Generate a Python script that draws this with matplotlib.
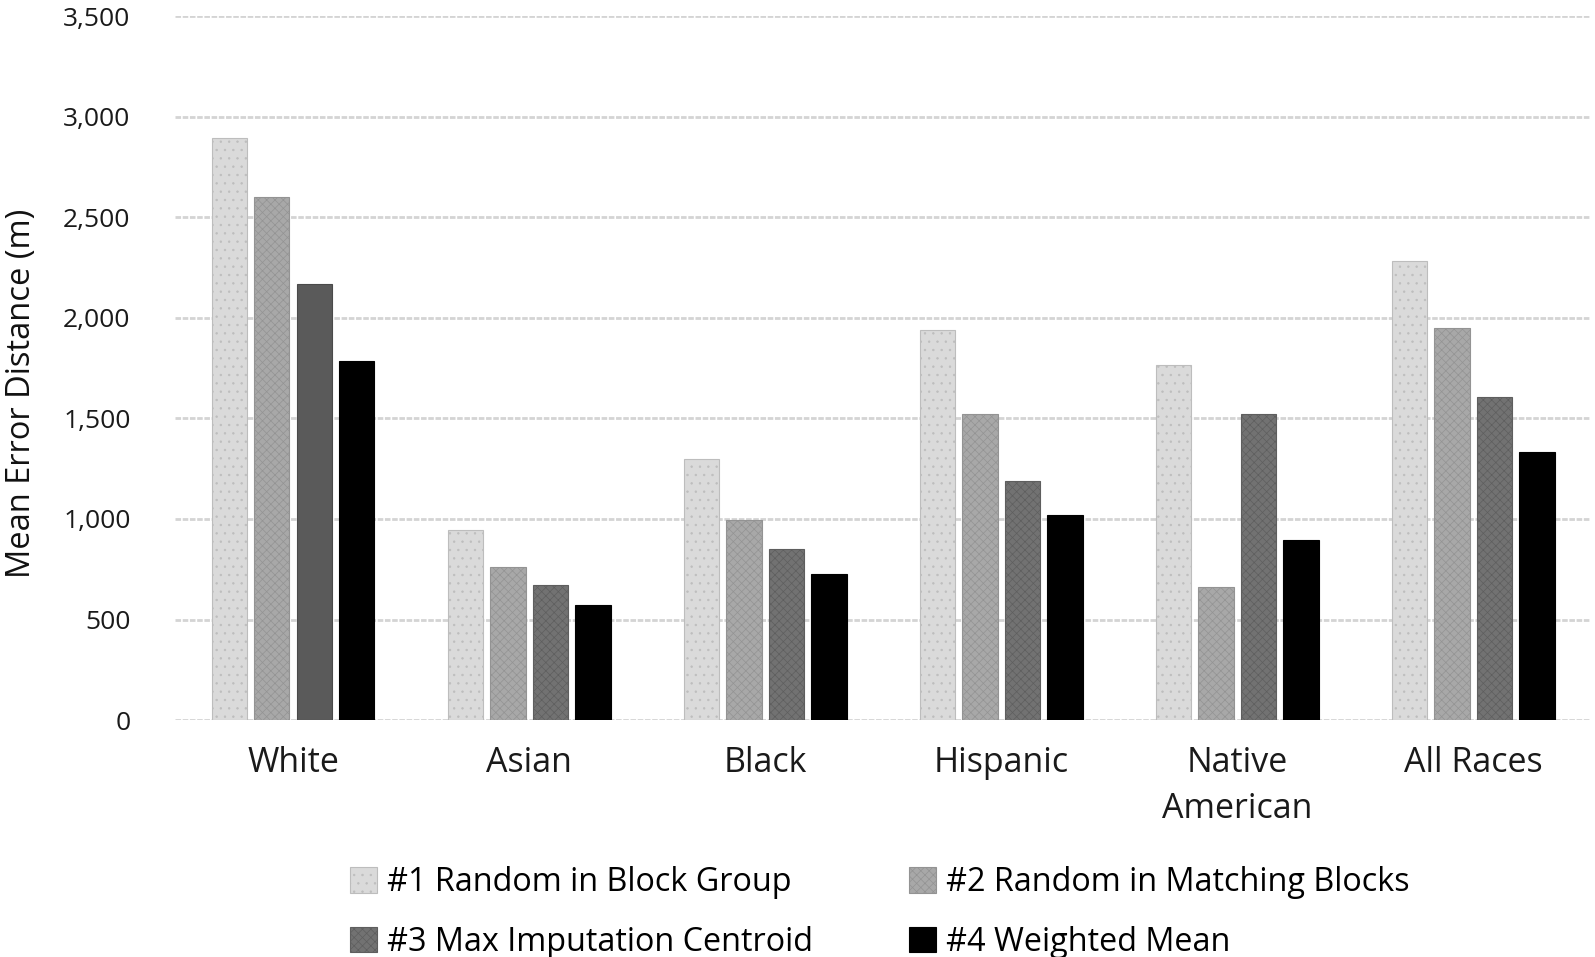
import numpy as np
import matplotlib.pyplot as plt
from matplotlib.patches import Patch

plt.rcParams['font.family'] = ['Open Sans', 'DejaVu Sans']
plt.rcParams['hatch.linewidth'] = 0.5

# data
categories = ['White', 'Asian', 'Black', 'Hispanic', 'Native\nAmerican', 'All Races']
series_names = ['#1 Random in Block Group', '#2 Random in Matching Blocks',
                '#3 Max Imputation Centroid', '#4 Weighted Mean']
m1 = [2895, 946, 1300, 1942, 1765, 2281]
m2 = [2600, 759, 997, 1522, 663, 1952]
m3 = [2170, 673, 850, 1189, 1522, 1608]
m4 = [1786, 572, 728, 1022, 895, 1335]
y_ticks = [0, 500, 1000, 1500, 2000, 2500, 3000, 3500]

faces = ['#dadada', '#a8a8a8', '#727272', '#000000']
hatch_cols = ['#bdbdbd', '#939393', '#5e5e5e', '#000000']
hatches = ['..', 'xxxx', 'xxxx', None]

fig = plt.figure(figsize=(15.95, 9.57), dpi=100)
ax = fig.add_axes([0.1097, 0.2476, 0.888, 0.7354])

x = np.arange(len(categories))
width = 0.15
step = 0.18
offsets = (np.arange(4) - 1.5) * step

for i, vals in enumerate([m1, m2, m3, m4]):
    bars = ax.bar(x + offsets[i], vals, width, color=faces[i],
                  edgecolor=hatch_cols[i], linewidth=0.8, hatch=hatches[i], zorder=3)
    if i == 2:
        # the White bar of series #3 is drawn solid in the original
        bars[0].set_hatch(None)
        bars[0].set_facecolor('#5a5a5a')
        bars[0].set_edgecolor('#4a4a4a')

ax.set_xlim(-0.5, len(categories) - 0.5)
ax.set_ylim(0, 3500)
ax.set_yticks(y_ticks)
ax.set_yticklabels([f'{v:,}' for v in y_ticks])
ax.set_xticks(x)
ax.set_xticklabels(categories, linespacing=1.45)

ax.grid(axis='y', color='#d4d4d4', linewidth=2, linestyle=(0, (2, 0.6)), zorder=0)
for s in ax.spines.values():
    s.set_visible(False)
ax.tick_params(axis='both', length=0, colors='#1a1a1a')
ax.tick_params(axis='y', pad=32, labelsize=19)
ax.tick_params(axis='x', pad=19, labelsize=24.5)
ax.set_ylabel('Mean Error Distance (m)', fontsize=23.5, color='#111111')
ax.yaxis.set_label_coords(-0.097, 0.464)

handles = [Patch(facecolor=faces[i], edgecolor=hatch_cols[i], hatch=hatches[i], linewidth=0.8)
           for i in range(4)]
# legend reads row by row: #1 #2 / #3 #4
order = [0, 2, 1, 3]
fig.legend([handles[k] for k in order], [series_names[k] for k in order],
           loc='upper left', bbox_to_anchor=(0.2194, 0.095),
           ncol=2, frameon=False, fontsize=23.3, handlelength=0.85, handleheight=0.85,
           handletextpad=0.3, columnspacing=2.95, labelspacing=0.82,
           borderaxespad=0, borderpad=0)

fig.savefig('out.png', dpi=100)
